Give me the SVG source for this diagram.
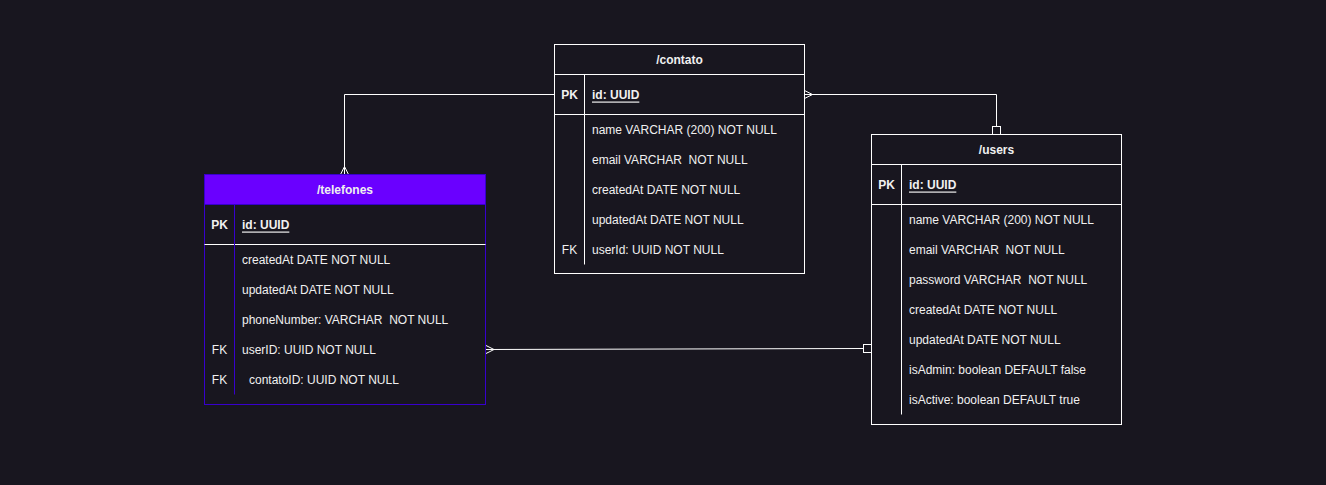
<svg xmlns="http://www.w3.org/2000/svg" width="1326" height="485" viewBox="0 0 1326 485">
<defs>
<style>
text{font-family:"Liberation Sans",Arial,sans-serif;font-size:12px;fill:#f0f0f0;dominant-baseline:central;white-space:pre}
.t{font-weight:bold;text-anchor:middle}
.k{font-weight:bold;text-anchor:middle}
.f{text-anchor:middle}
.pk{font-weight:bold;text-decoration:underline}
.box{fill:#18161f;stroke:#ffffff;stroke-width:1}
.ln{stroke:#ffffff;stroke-width:1;fill:none}
.pl{stroke:#3700cc;stroke-width:1;fill:none}
.c{stroke:#ffffff;stroke-width:1;fill:none}
</style>
</defs>
<rect width="1326" height="485" fill="#18161f"/>
<g id="connectors">
<path class="c" d="M554.5 94.5H344.5V174.5"/>
<path class="c" d="M340.5 174.5L344.5 166.5L348.5 174.5"/>
<path class="c" d="M804.5 94.5H996.5V126.5"/>
<path class="c" d="M804.5 90.5L812.5 94.5L804.5 98.5"/>
<rect class="c" x="992.5" y="126.5" width="8" height="8" fill="#18161f"/>
<path class="c" d="M486 349.5L863.5 348.5"/>
<path class="c" d="M486 345.5L494 349.5L486 353.5"/>
<rect class="c" x="863.5" y="344.5" width="8" height="8" fill="#18161f"/>
</g>
<g id="contato">
<rect class="box" x="554.5" y="44.5" width="250" height="229"/>
<line class="ln" x1="554.5" y1="74.5" x2="804.5" y2="74.5"/>
<line class="ln" x1="554.5" y1="114.5" x2="804.5" y2="114.5"/>
<line class="ln" x1="584.5" y1="74.5" x2="584.5" y2="264.5"/>
<text class="t" x="679.5" y="59.5">/contato</text>
<text class="k" x="569.5" y="94.5">PK</text>
<text class="pk" x="592" y="94.5">id: UUID</text>
<text x="592" y="129.5">name VARCHAR (200) NOT NULL</text>
<text x="592" y="159.5">email VARCHAR  NOT NULL</text>
<text x="592" y="189.5">createdAt DATE NOT NULL</text>
<text x="592" y="219.5">updatedAt DATE NOT NULL</text>
<text class="f" x="569.5" y="249.5">FK</text>
<text x="592" y="249.5">userId: UUID NOT NULL</text>
</g>
<g id="telefones">
<rect x="204.5" y="174.5" width="281" height="230" fill="#18161f" stroke="#3700cc"/>
<rect x="204.5" y="174.5" width="281" height="30" fill="#6a00ff" stroke="#3700cc"/>
<line class="ln" x1="204.5" y1="244.5" x2="485.5" y2="244.5"/>
<line class="pl" x1="234.5" y1="204.5" x2="234.5" y2="394.5"/>
<text class="t" x="345" y="189.5">/telefones</text>
<text class="k" x="219.5" y="224.5">PK</text>
<text class="pk" x="242" y="224.5">id: UUID</text>
<text x="242" y="259.5">createdAt DATE NOT NULL</text>
<text x="242" y="289.5">updatedAt DATE NOT NULL</text>
<text x="242" y="319.5">phoneNumber: VARCHAR  NOT NULL</text>
<text class="f" x="219.5" y="349.5">FK</text>
<text x="242" y="349.5">userID: UUID NOT NULL</text>
<text class="f" x="219.5" y="379.5">FK</text>
<text x="249" y="379.5">contatoID: UUID NOT NULL</text>
</g>
<g id="users">
<rect class="box" x="871.5" y="134.5" width="250" height="290"/>
<line class="ln" x1="871.5" y1="164.5" x2="1121.5" y2="164.5"/>
<line class="ln" x1="871.5" y1="204.5" x2="1121.5" y2="204.5"/>
<line class="ln" x1="901.5" y1="164.5" x2="901.5" y2="414.5"/>
<text class="t" x="996.5" y="149.5">/users</text>
<text class="k" x="886.5" y="184.5">PK</text>
<text class="pk" x="909" y="184.5">id: UUID</text>
<text x="909" y="219.5">name VARCHAR (200) NOT NULL</text>
<text x="909" y="249.5">email VARCHAR  NOT NULL</text>
<text x="909" y="279.5">password VARCHAR  NOT NULL</text>
<text x="909" y="309.5">createdAt DATE NOT NULL</text>
<text x="909" y="339.5">updatedAt DATE NOT NULL</text>
<text x="909" y="369.5">isAdmin: boolean DEFAULT false</text>
<text x="909" y="399.5">isActive: boolean DEFAULT true</text>
</g>
</svg>
